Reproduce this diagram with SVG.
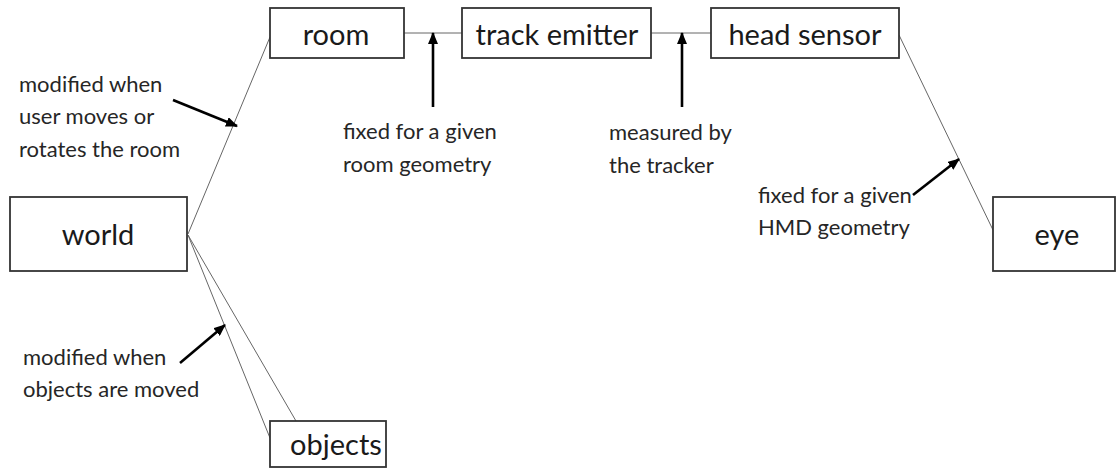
<svg xmlns="http://www.w3.org/2000/svg" width="1117" height="468" viewBox="0 0 1117 468">
<style>
.box{fill:#fff;stroke:#333;stroke-width:1.8}
.lbl{font-family:Lato,"Liberation Sans",sans-serif;font-size:29px;fill:#1a1a1a;text-anchor:middle}
.ann{font-family:Lato,"Liberation Sans",sans-serif;font-size:22px;fill:#262626}
.link{stroke:#666;stroke-width:1;fill:none}
.arr{stroke:#000;stroke-width:2.6;fill:none;marker-end:url(#ah)}
</style>
<defs>
<marker id="ah" markerUnits="userSpaceOnUse" markerWidth="12" markerHeight="10" refX="11" refY="5" orient="auto">
<path d="M0,0 L12,5 L0,10 Z" fill="#000"/>
</marker>
</defs>
<rect width="1117" height="468" fill="#fff"/>
<g id="connectors">
<line class="link" x1="188" y1="234" x2="270" y2="37"/>
<line class="link" x1="404" y1="33" x2="462" y2="33"/>
<line class="link" x1="651" y1="33" x2="711" y2="33"/>
<line class="link" x1="899" y1="35" x2="993" y2="230"/>
<line class="link" x1="188" y1="235" x2="296" y2="421"/>
<line class="link" x1="188" y1="235" x2="270" y2="438"/>
<line class="arr" x1="173" y1="100" x2="237" y2="126"/>
<line class="arr" x1="433" y1="107" x2="433" y2="33"/>
<line class="arr" x1="682" y1="107" x2="682" y2="33"/>
<line class="arr" x1="913" y1="195" x2="959" y2="159"/>
<line class="arr" x1="180" y1="363" x2="225" y2="325"/>
</g>
<g id="room"><rect class="box" x="270" y="8" width="134" height="50"/><text class="lbl" x="336" y="45">room</text></g>
<g id="track-emitter"><rect class="box" x="462" y="8" width="189" height="50"/><text class="lbl" x="557" y="45">track emitter</text></g>
<g id="head-sensor"><rect class="box" x="711" y="8" width="188" height="50"/><text class="lbl" x="805" y="45">head sensor</text></g>
<g id="world"><rect class="box" x="10" y="197" width="177" height="74"/><text class="lbl" x="98" y="245">world</text></g>
<g id="eye"><rect class="box" x="993" y="197" width="122" height="74"/><text class="lbl" x="1057" y="245">eye</text></g>
<g id="objects"><rect class="box" x="270" y="421" width="116" height="46"/><text class="lbl" x="336" y="455">objects</text></g>
<g id="annotations">
<text class="ann" x="19" y="92">modified when</text>
<text class="ann" x="19" y="124">user moves or</text>
<text class="ann" x="19" y="157">rotates the room</text>
<text class="ann" x="343" y="139">fixed for a given</text>
<text class="ann" x="343" y="172">room geometry</text>
<text class="ann" x="609" y="140">measured by</text>
<text class="ann" x="609" y="173">the tracker</text>
<text class="ann" x="758" y="203">fixed for a given</text>
<text class="ann" x="758" y="235">HMD geometry</text>
<text class="ann" x="23" y="365">modified when</text>
<text class="ann" x="23" y="397">objects are moved</text>
</g>
</svg>
